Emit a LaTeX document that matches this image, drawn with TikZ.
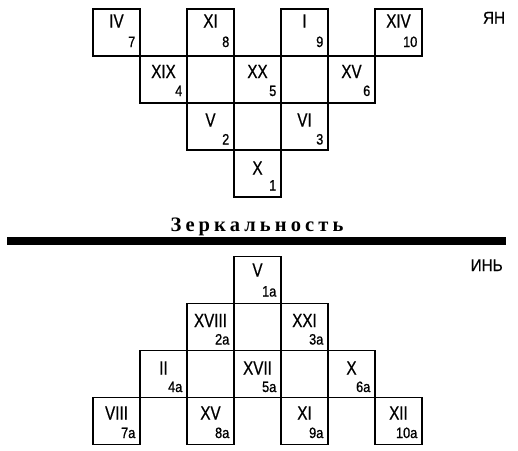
\documentclass[tikz,border=0pt]{standalone}
\usepackage{fontspec}
\setmainfont{Liberation Sans}
\newfontfamily\romfont[FakeStretch=0.8,FakeBold=0.6]{Liberation Sans}
\newfontfamily\numfont[FakeStretch=0.85,FakeBold=0.8]{Liberation Sans}
\newfontfamily\sidefont[FakeStretch=0.9,FakeBold=0.5]{Liberation Sans}
\newfontfamily\titlefont[LetterSpace=20]{Liberation Serif}
\usetikzlibrary{calc}
\tikzset{
  cellbox/.style={draw, line width=1.3pt, minimum width=47pt, minimum height=47pt, inner sep=0pt, outer sep=0pt},
  romtext/.style={font=\romfont\fontsize{19}{21}\selectfont, inner sep=0pt, anchor=base},
  numtext/.style={font=\numfont\fontsize{15}{17}\selectfont, inner sep=0pt, anchor=base east},
  sidetext/.style={font=\sidefont\fontsize{17}{19}\selectfont, inner sep=0pt, anchor=base},
  titletext/.style={font=\titlefont\bfseries\fontsize{20.5}{24}\selectfont, inner sep=0pt, anchor=base},
}
% name, col, top, roman offset, number offset, roman, number
\newcommand\mycell[7]{%
  \node[cellbox] (#1) at ({93+47*#2+23.5},{#3+23.5}) {};
  \node[romtext] (#1-r) at ($(#1.north)+(0,#4)$) {#6};
  \node[numtext] (#1-n) at ($(#1.south east)+(-4.5,-#5)$) {#7};
}
\begin{document}
\begin{tikzpicture}[x=1pt,y=-1pt]
\useasboundingbox (0,0) rectangle (518,450);
% upper part
\mycell{t7}{0}{9}{18.5}{9}{IV}{7}
\mycell{t8}{2}{9}{18.5}{9}{XI}{8}
\mycell{t9}{4}{9}{18.5}{9}{I}{9}
\mycell{t10}{6}{9}{18.5}{9}{XIV}{10}
\mycell{t4}{1}{56}{22}{7}{XIX}{4}
\mycell{t5}{3}{56}{22}{7}{XX}{5}
\mycell{t6}{5}{56}{22}{7}{XV}{6}
\mycell{t2}{2}{103}{23.5}{5.5}{V}{2}
\mycell{t3}{4}{103}{23.5}{5.5}{VI}{3}
\mycell{t1}{3}{150}{24.5}{6.5}{X}{1}
\node[sidetext] (yan) at (494,23.5) {ЯН};
% title and bar
\node[titletext] (title) at (257,231) {Зеркальность};
\fill (7,237) rectangle (506,245);
% lower part
\mycell{b1}{3}{256.5}{20}{7}{V}{1a}
\mycell{b2}{2}{303.5}{23.5}{6}{XVIII}{2a}
\mycell{b3}{4}{303.5}{23.5}{6}{XXI}{3a}
\mycell{b4}{1}{350.5}{24}{5.5}{II}{4a}
\mycell{b5}{3}{350.5}{24}{5.5}{XVII}{5a}
\mycell{b6}{5}{350.5}{24}{5.5}{X}{6a}
\mycell{b7}{0}{397.5}{22}{6.5}{VIII}{7a}
\mycell{b8}{2}{397.5}{22}{6.5}{XV}{8a}
\mycell{b9}{4}{397.5}{22}{6.5}{XI}{9a}
\mycell{b10}{6}{397.5}{22}{6.5}{XII}{10a}
\node[sidetext] (yin) at (486.7,271) {ИНЬ};
\end{tikzpicture}
\end{document}
